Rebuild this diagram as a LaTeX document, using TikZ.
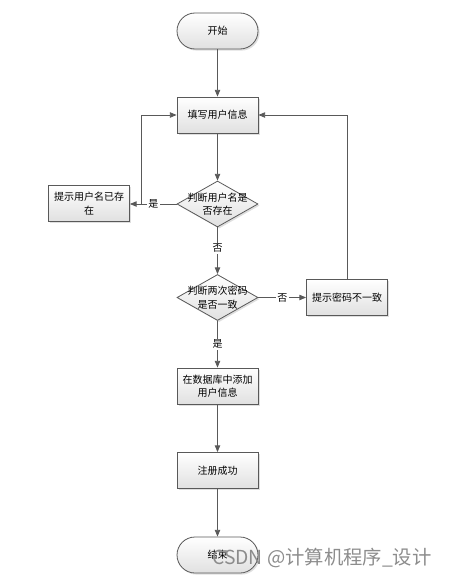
\documentclass[tikz,border=0pt]{standalone}
\usepackage{fontspec}
\newfontfamily\cjk{Noto Sans CJK SC}
\usetikzlibrary{shapes.geometric,shadows,arrows.meta}
\begin{document}
\begin{tikzpicture}[x=0.75pt,y=-0.75pt,
  base/.style={draw=black!65, line width=0.6pt, top color=white, bottom color=black!12,
    drop shadow={opacity=0.25,shadow xshift=1.2pt,shadow yshift=-1.2pt},
    font=\cjk\fontsize{7.5}{10}\selectfont, align=center, inner sep=0pt},
  procbox/.style={base, rectangle, minimum width=60.75pt, minimum height=27pt, text width=56pt},
  termbox/.style={base, rectangle, rounded corners=13.5pt, minimum width=60.75pt, minimum height=27pt},
  decbox/.style={base, diamond, minimum width=60.75pt, minimum height=34.5pt},
  conn/.style={draw=black!65, line width=0.6pt},
  arr/.style={conn, -{Triangle[length=5pt,width=4pt]}},
  lbl/.style={font=\cjk\fontsize{7.5}{10}\selectfont, fill=white, inner sep=1pt}]
\useasboundingbox (0,0) rectangle (449,578);
\node[termbox] (start) at (217.5,31) {开始};
\node[procbox] (fill) at (217.5,115) {填写用户信息};
\node[decbox, label={[font=\cjk\fontsize{7.5}{10}\selectfont, align=center]center:判断用户名是\\否存在}] (d1) at (217.5,204) {};
\node[procbox] (exist) at (89,203.5) {提示用户名已存\\在};
\node[decbox, label={[font=\cjk\fontsize{7.5}{10}\selectfont, align=center]center:判断两次密码\\是否一致}] (d2) at (217.5,297.5) {};
\node[procbox] (pwd) at (347,297.5) {提示密码不一致};
\node[procbox] (add) at (217.5,386) {在数据库中添加\\用户信息};
\node[procbox] (ok) at (217.5,470.5) {注册成功};
\node[termbox] (end) at (217.5,555) {结束};
\coordinate (j1) at (141,204);
\draw[arr] (start) -- (fill);
\draw[arr] (fill) -- (d1);
\draw[arr] (d1.west) -- node[lbl, pos=0.5]{是} (exist.east |- d1.west);
\draw[arr] (j1) |- (fill.west);
\draw[arr] (d1.south) -- node[lbl, pos=0.45]{否} (d2.north);
\draw[arr] (d2.east) -- node[lbl, pos=0.5]{否} (pwd.west);
\draw[arr] (pwd.north) |- (fill.east);
\draw[arr] (d2.south) -- node[lbl, pos=0.5]{是} (add.north);
\draw[arr] (add) -- (ok);
\draw[arr] (ok) -- (end);
\node[font=\cjk\fontsize{14.5}{17}\selectfont, text=black!45, inner sep=0pt, anchor=west] (wm) at (212,558) {CSDN @计算机程序\_设计};
\end{tikzpicture}
\end{document}
